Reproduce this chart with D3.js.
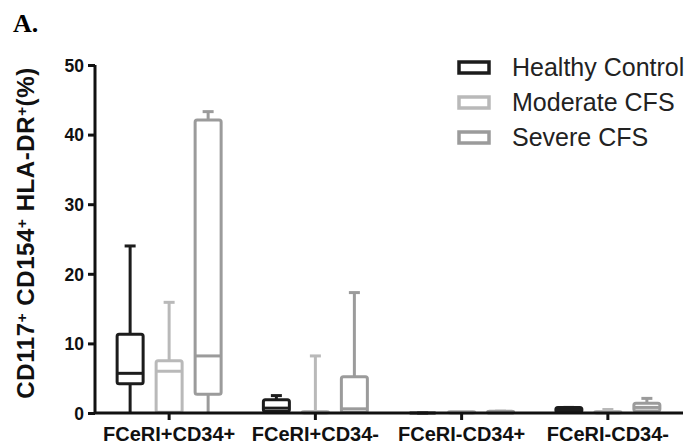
<!DOCTYPE html>
<html>
<head>
<meta charset="utf-8">
<script src="https://cdn.jsdelivr.net/npm/d3@7"></script>
<style>
  body { margin: 0; background: #fff; }
  svg { font-family: "Liberation Sans", Arial, sans-serif; }
</style>
</head>
<body>
<svg width="690" height="446"></svg>
<script>
// categories on the x axis
const categories = ["FCeRI+CD34+", "FCeRI+CD34-", "FCeRI-CD34+", "FCeRI-CD34-"];
const series = ["Healthy Control", "Moderate CFS", "Severe CFS"];
const colors = ["#1c1c1c", "#b9b9b9", "#9b9b9b"];

// [min, q1, median, q3, max] per category
const healthy = [[0, 4.2, 5.7, 11.3, 24.0], [0, 0.2, 0.7, 1.9, 2.5], [0, 0, 0, 0, 0], [0, 0.1, 0.4, 0.8, 0.8]];
const moderate = [[0, 0.1, 6.0, 7.5, 15.9], [0, 0, 0.1, 0.2, 8.2], [0, 0, 0.1, 0.2, 0.2], [0, 0, 0.1, 0.2, 0.5]];
const severe = [[0, 2.7, 8.2, 42.1, 43.3], [0, 0.1, 0.6, 5.2, 17.3], [0, 0, 0.1, 0.25, 0.25], [0, 0.3, 0.8, 1.4, 2.1]];

const yTicks = [0, 10, 20, 30, 40, 50];

const svg = d3.select("svg");

const x = d3.scaleBand().domain(categories).range([96, 681]);
const xs = d3.scalePoint().domain(series).range([-39, 39]);
const y = d3.scaleLinear().domain([0, 50]).range([413, 65]);

// panel label
svg.append("text")
  .attr("x", 13).attr("y", 32)
  .style("font-family", "'Liberation Serif', 'Times New Roman', serif")
  .style("font-weight", "bold")
  .style("font-size", "26px")
  .text("A.");

// boxes
const allData = [healthy, moderate, severe];
const boxW = 26;
const capW = 11;

series.forEach((s, si) => {
  const g = svg.append("g")
    .attr("stroke", colors[si])
    .attr("stroke-width", 3)
    .attr("fill", "none")
    .attr("stroke-linejoin", "round");

  const boxes = g.selectAll("g.box")
    .data(allData[si])
    .enter()
    .append("g")
    .attr("class", "box")
    .attr("transform", (d, i) => {
      return `translate(${x(categories[i]) + x.bandwidth() / 2 + xs(s)},0)`;
    });

  // whiskers
  boxes.append("line")
    .attr("x1", 0).attr("x2", 0)
    .attr("y1", d => y(d[0]))
    .attr("y2", d => y(d[1]));
  boxes.append("line")
    .attr("x1", 0).attr("x2", 0)
    .attr("y1", d => y(d[3]))
    .attr("y2", d => y(d[4]));
  // top cap
  boxes.append("line")
    .attr("x1", -capW / 2).attr("x2", capW / 2)
    .attr("y1", d => y(d[4]))
    .attr("y2", d => y(d[4]));

  // box
  boxes.append("rect")
    .attr("x", -boxW / 2)
    .attr("width", boxW)
    .attr("y", d => y(d[3]))
    .attr("height", d => y(d[1]) - y(d[3]))
    .attr("rx", 2)
    .attr("fill", "#fff");

  // median
  boxes.append("line")
    .attr("x1", -boxW / 2).attr("x2", boxW / 2)
    .attr("y1", d => y(d[2]))
    .attr("y2", d => y(d[2]));
});

// y axis
const yAxis = svg.append("g")
  .attr("transform", "translate(95,0)")
  .call(d3.axisLeft(y).tickValues(yTicks).tickSize(7).tickPadding(4));
yAxis.select(".domain").attr("stroke", "#111").attr("stroke-width", 3).attr("d", `M0,${y(50)}V${y(0)}`);
yAxis.selectAll(".tick line").attr("stroke", "#111").attr("stroke-width", 3);
yAxis.selectAll(".tick text")
  .style("font-family", "'Liberation Sans', Arial, sans-serif")
  .style("font-size", "17.5px")
  .style("font-weight", "bold")
  .attr("fill", "#111")
  .attr("dy", "0.36em");

// x axis
const xAxis = svg.append("g")
  .attr("transform", `translate(0,${y(0)})`)
  .call(d3.axisBottom(x).tickSize(7).tickPadding(7));
xAxis.select(".domain").attr("stroke", "#111").attr("stroke-width", 3).attr("d", "M94,0H683");
xAxis.selectAll(".tick line").attr("stroke", "#111").attr("stroke-width", 3);
xAxis.selectAll(".tick text")
  .style("font-family", "'Liberation Sans', Arial, sans-serif")
  .style("font-size", "20px")
  .style("font-weight", "bold")
  .attr("fill", "#111");

// y title, superscript plus signs as raised tspans
const title = svg.append("text")
  .attr("transform", "translate(34,233) rotate(-90)")
  .attr("text-anchor", "middle")
  .style("font-size", "24px")
  .style("font-weight", "bold")
  .style("letter-spacing", "0.6px")
  .attr("fill", "#111");
const parts = [["CD117", "+"], [" CD154", "+"], [" HLA-DR", "+"], ["(%)", ""]];
parts.forEach((p, i) => {
  title.append("tspan").attr("dy", i > 0 ? 7 : 0).text(p[0]);
  if (p[1]) {
    title.append("tspan").attr("dy", -7).style("font-size", "15px").text(p[1]);
  }
});

// legend
const legend = svg.selectAll("g.legend")
  .data(series)
  .enter()
  .append("g")
  .attr("class", "legend")
  .attr("transform", (d, i) => `translate(459,${68 + i * 35})`);
legend.append("rect")
  .attr("x", 0).attr("y", -6)
  .attr("width", 30).attr("height", 11)
  .attr("fill", "#fff")
  .attr("stroke", (d, i) => colors[i])
  .attr("stroke-width", 3.5);
legend.append("text")
  .attr("x", 53).attr("y", 8)
  .style("font-size", "25px")
  .attr("fill", "#222")
  .text(d => d);
</script>
</body>
</html>
